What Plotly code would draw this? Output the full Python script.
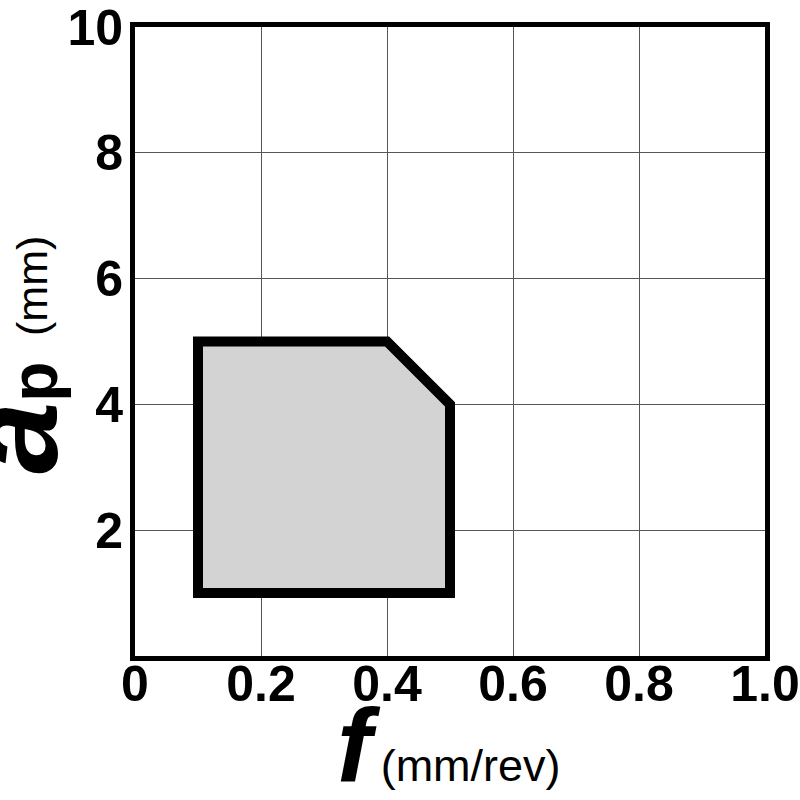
import plotly.graph_objects as go

# Data: operating region polygon (feed f vs depth of cut ap)
region_f = [0.1, 0.1, 0.4, 0.5, 0.5]
region_ap = [1, 5, 5, 4, 1]

x_ticks = [0, 0.2, 0.4, 0.6, 0.8, 1.0]
x_tick_labels = ["0", "0.2", "0.4", "0.6", "0.8", "1.0"]
y_ticks = [2, 4, 6, 8, 10]
y_tick_labels = ["2", "4", "6", "8", "10"]

W = H = 800
L, R, T, B = 135, 35, 27, 144
PW, PH = W - L - R, H - T - B


def px(xpage):
    return (xpage - L) / PW


def py(ypage):
    return (H - B - ypage) / PH


fig = go.Figure()
fig.add_trace(go.Scatter(x=region_f, y=region_ap, mode="none", hoverinfo="skip", showlegend=False))

path = "M " + " L ".join(f"{f} {a}" for f, a in zip(region_f, region_ap)) + " Z"
fig.add_shape(type="path", xref="x", yref="y", path=path,
              fillcolor="#d3d3d3", line=dict(color="black", width=10), layer="above")

FONT = "Liberation Sans, Arial, sans-serif"
tick_font = dict(family=FONT, size=50, color="black", weight="bold")

fig.update_xaxes(
    range=[0, 1], tickvals=x_ticks, ticktext=x_tick_labels,
    showgrid=True, gridcolor="#555555", gridwidth=1,
    showline=True, linecolor="black", linewidth=5, mirror=True,
    zeroline=False, ticks="", tickfont=tick_font, ticklabelstandoff=-20,
    ticklabeloverflow="allow",
)
fig.update_yaxes(
    range=[0, 10], tickvals=y_ticks, ticktext=y_tick_labels,
    showgrid=True, gridcolor="#555555", gridwidth=1,
    showline=True, linecolor="black", linewidth=5, mirror=True,
    zeroline=False, ticks="", tickfont=tick_font, ticklabelstandoff=-3,
    ticklabeloverflow="allow",
)

fig.add_annotation(
    xref="paper", yref="paper", x=px(449), y=py(805),
    xanchor="center", yanchor="bottom", showarrow=False,
    text='<span style="font-size:104px;font-weight:bold;font-style:italic">f</span>'
         '<span style="font-size:45px">\u2009(mm/rev)</span>',
    font=dict(family=FONT, color="black", size=45),
)
fig.add_annotation(
    xref="paper", yref="paper", x=px(87), y=py(418),
    xanchor="right", yanchor="middle", textangle=-90, showarrow=False,
    text='<span style="font-size:130px;font-weight:bold;font-style:italic">a</span>'
         '<span style="font-size:66px;font-weight:bold">p</span>',
    font=dict(family=FONT, color="black", size=66),
)
fig.add_annotation(
    xref="paper", yref="paper", x=px(58), y=py(286),
    xanchor="right", yanchor="middle", textangle=-90, showarrow=False,
    text="(mm)",
    font=dict(family=FONT, color="black", size=43),
)

fig.update_layout(
    width=W, height=H,
    margin=dict(l=L, r=R, t=T, b=B, autoexpand=False),
    plot_bgcolor="white", paper_bgcolor="white",
)

fig.write_html("out.html", config={"displayModeBar": False},
               post_script="document.body.style.margin='0';")
